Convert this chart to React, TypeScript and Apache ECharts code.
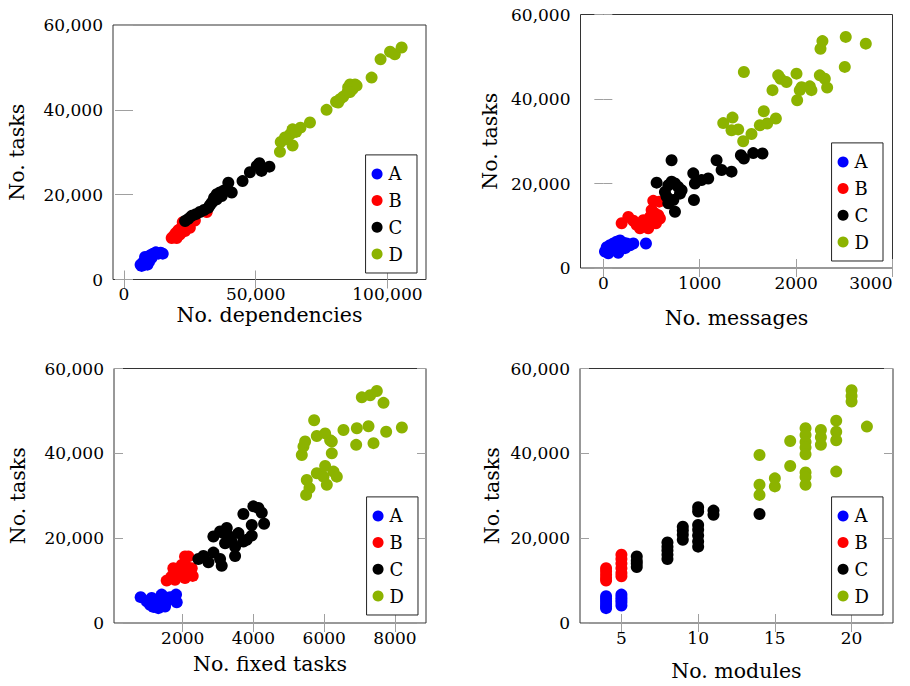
import React, { useEffect, useRef } from "react";
import * as echarts from "echarts";

const groups = ["A", "B", "C", "D"];
const groupColors = ["#0000ff", "#ff0000", "#000000", "#8cb300"];
const yTicks = [0, 20000, 40000, 60000];
const yTitle = "No. tasks";

// Panel 1: No. dependencies vs No. tasks
const depA = [[6300,3500],[7300,4100],[8400,4600],[8900,3500],[9600,4300],[10500,5100],[8000,5300],[11100,6100],[12100,6400],[13000,6100],[13900,6300],[14700,6100],[9900,5700],[6700,3200]];
const depB = [[18100,9800],[19000,10400],[19700,11000],[20600,11600],[21500,12000],[22500,12400],[23500,12700],[24400,13200],[20000,9800],[21200,10600],[23100,11400],[25000,12200],[26900,13900],[31400,15900],[22300,13500],[24000,12200]];
const depC = [[23200,13800],[24400,14300],[25700,15000],[27300,15400],[28800,15900],[30400,16400],[32000,16900],[33300,18100],[34200,19300],[35200,20100],[36400,20500],[37700,20900],[39200,21300],[39600,22800],[40900,20500],[33900,18500],[32600,17500],[35200,18900],[37100,19700],[45000,23200],[47800,25300],[50400,26800],[51400,27400],[52200,25600],[55200,26600]];
const depD = [[59200,30100],[59500,32400],[61100,33500],[63000,34200],[64000,35400],[64000,31600],[65300,34800],[67000,35800],[70600,37000],[76900,40000],[80500,41900],[82000,42500],[83200,43100],[84800,44100],[85100,45300],[85800,46000],[86800,44900],[87700,46000],[88300,45700],[94000,47600],[97400,51900],[101000,53700],[102800,53100],[105400,54700],[61700,33100],[81300,41700],[85800,44200]];
const depTicks = [0, 50000, 100000];

// Panel 2: No. messages vs No. tasks
const msgA = [[17,3900],[35,4900],[69,5400],[104,5800],[138,6200],[173,6500],[207,6000],[242,5800],[276,5400],[311,5800],[155,3600],[225,4700],[442,5800],[86,4400],[52,3500]];
const msgB = [[190,10600],[259,12100],[311,11200],[346,10200],[380,9400],[415,11300],[449,10600],[484,12100],[501,13700],[536,12900],[570,12500],[587,11700],[518,15900],[580,15700],[397,10200],[466,9400],[546,10600]];
const msgC = [[553,20200],[639,18000],[674,19600],[708,20400],[743,20000],[777,19200],[812,18400],[674,15300],[726,16100],[743,13300],[708,25500],[933,22400],[950,20000],[940,16100],[1019,20800],[1088,21200],[1175,25500],[1227,23200],[1330,22800],[1427,26700],[1458,25900],[1555,27200],[1651,27100],[656,16900],[795,17600]];
const msgD = [[1244,34300],[1340,35600],[1330,32600],[1399,32800],[1451,30000],[1537,31700],[1624,33800],[1665,37100],[1700,34200],[1790,35400],[1458,46400],[1755,42100],[1814,45600],[1838,44800],[1900,44000],[2004,46000],[2038,42100],[2011,39700],[2056,42800],[2142,43000],[2159,42100],[2246,45600],[2298,44800],[2322,42700],[2253,51900],[2273,53700],[2515,54700],[2723,53100],[2505,47600]];
const msgTicks = [0, 1000, 2000, 3000];

// Panel 3: No. fixed tasks vs No. tasks
const fixA = [[811,6100],[981,5100],[1075,4300],[1170,3800],[1264,4700],[1358,5500],[1405,6700],[1500,3900],[1547,5100],[1641,6100],[1735,5700],[1811,6700],[1830,4900],[1122,5900],[1311,3500]];
const fixB = [[1547,10000],[1688,11000],[1735,12900],[1830,11800],[1924,12600],[1971,13700],[2065,15700],[2160,15700],[2065,10600],[2207,12200],[2282,11100],[1782,10200],[1943,11400],[2112,13300],[2254,12900]];
const fixC = [[2442,15100],[2584,15800],[2725,14300],[2867,16600],[3055,15100],[3102,13500],[2867,20400],[3055,21600],[3244,22400],[3320,20400],[3385,19200],[3480,18000],[3480,15800],[3574,21200],[3715,19200],[3810,19600],[3951,20600],[3951,23100],[3715,25700],[3998,27500],[4140,27100],[4234,26000],[4300,23400],[3197,18800],[3150,21200]];
const fixD = [[5366,39600],[5413,41600],[5460,42800],[5507,33700],[5583,31800],[5488,30200],[5715,47800],[5790,44100],[5790,35300],[5979,34500],[6026,44700],[6026,37000],[6073,32600],[6167,43100],[6214,40000],[6262,35700],[6356,34500],[6544,45500],[6903,42000],[6922,45900],[7063,53200],[7252,46400],[7300,53700],[7393,42400],[7487,54700],[7676,51900],[7751,45100],[8195,46100],[6214,42800]];
const fixTicks = [2000, 4000, 6000, 8000];

// Panel 4: No. modules vs No. tasks
const modA = [[4,6300],[4,5700],[4,5100],[4,4500],[4,3900],[4,3500],[5,6700],[5,6100],[5,5500],[5,4900],[5,4100]];
const modB = [[4,12900],[4,12200],[4,11400],[4,10600],[4,10000],[5,16100],[5,15100],[5,14000],[5,12900],[5,11800],[5,11000]];
const modC = [[6,15700],[6,14700],[6,14000],[6,13200],[8,19000],[8,18000],[8,17100],[8,16100],[8,15100],[9,22700],[9,21800],[9,20800],[9,19600],[10,27300],[10,26300],[10,23100],[10,22000],[10,20600],[10,19200],[10,18000],[11,26500],[11,25500],[14,25700]];
const modD = [[14,39600],[14,32600],[14,30200],[15,34100],[15,32200],[16,42900],[16,37000],[17,45900],[17,44300],[17,42700],[17,41400],[17,39800],[17,35500],[17,34400],[17,32600],[18,45500],[18,43800],[18,42000],[19,47700],[19,45100],[19,43100],[19,35700],[20,54900],[20,53500],[20,52200],[21,46300]];
const modTicks = [5, 10, 15, 20];

const FONT = "DejaVu Serif";

const panels = [
  { data: [depA, depB, depC, depD], xTicks: depTicks, xName: "No. dependencies",
    grid: { left: 113, top: 25, width: 313, height: 254.5 }, xMin: -4180, xMax: 114650,
    xNameGap: 25, yNameGap: 86, legend: { right: 493, bottom: 413 } },
  { data: [msgA, msgB, msgC, msgD], xTicks: msgTicks, xName: "No. messages",
    grid: { left: 580.5, top: 14.5, width: 312, height: 253.5 }, xMin: -237, xMax: 3000,
    xNameGap: 39, yNameGap: 80, legend: { right: 27, bottom: 425 } },
  { data: [fixA, fixB, fixC, fixD], xTicks: fixTicks, xName: "No. fixed tasks",
    grid: { left: 114, top: 368.5, width: 312, height: 254.5 }, xMin: 57, xMax: 8877,
    xNameGap: 30.5, yNameGap: 86, legend: { right: 492, bottom: 71 } },
  { data: [modA, modB, modC, modD], xTicks: modTicks, xName: "No. modules",
    grid: { left: 580, top: 368.5, width: 313, height: 254.5 }, xMin: 2.3, xMax: 22.7,
    xNameGap: 37.5, yNameGap: 78, legend: { right: 27, bottom: 71 } },
];

const fmt = (v: number) => (Math.abs(v) >= 10000 ? v.toLocaleString("en-US") : String(v));

function buildOption() {
  const grid: any[] = [];
  const xAxis: any[] = [];
  const yAxis: any[] = [];
  const series: any[] = [];
  const legend: any[] = [];
  const tickStyle = { show: true, inside: true, length: 9, lineStyle: { color: "#a0a0a0", width: 1 } };
  const tickText = { fontFamily: FONT, fontSize: 17, color: "#000" };
  const titleText = { fontFamily: FONT, fontSize: 20.5, color: "#000" };
  panels.forEach((p, i) => {
    grid.push({ ...p.grid, show: true, borderColor: "#333", borderWidth: 1, backgroundColor: "transparent", containLabel: false, outerBoundsMode: "none" });
    const xBase = { type: "value", gridIndex: i, min: p.xMin, max: p.xMax, splitLine: { show: false }, axisLine: { show: false } };
    xAxis.push({
      ...xBase, position: "bottom",
      axisTick: { ...tickStyle, customValues: p.xTicks },
      axisLabel: { ...tickText, margin: 6, customValues: p.xTicks, formatter: fmt, alignMaxLabel: i === 1 ? "right" : undefined },
      name: p.xName, nameLocation: "middle", nameGap: p.xNameGap,
      nameTextStyle: { ...titleText },
    });
    xAxis.push({ ...xBase, position: "top", axisTick: { ...tickStyle, customValues: p.xTicks }, axisLabel: { show: false } });
    const yBase = { type: "value", gridIndex: i, min: 0, max: 60000, splitLine: { show: false }, axisLine: { show: false } };
    yAxis.push({
      ...yBase, position: "left",
      axisTick: { ...tickStyle, customValues: yTicks },
      axisLabel: { ...tickText, margin: 10, customValues: yTicks, formatter: fmt },
      name: yTitle, nameLocation: "middle", nameRotate: 90, nameGap: p.yNameGap,
      nameTextStyle: { ...titleText },
    });
    yAxis.push({ ...yBase, position: "right", axisTick: { ...tickStyle, customValues: yTicks }, axisLabel: { show: false } });
    p.data.forEach((d, g) => {
      series.push({
        type: "scatter", name: groups[g], data: d, xAxisIndex: 2 * i, yAxisIndex: 2 * i,
        symbol: "circle", symbolSize: 12, itemStyle: { color: groupColors[g], opacity: 1 },
        emphasis: { disabled: true }, silent: true,
      });
    });
    legend.push({
      data: groups, orient: "vertical", right: p.legend.right, bottom: p.legend.bottom,
      icon: "circle", itemWidth: 11, itemHeight: 11, itemGap: 8.7, padding: [10, 14, 10, 6],
      borderColor: "#222", borderWidth: 1, backgroundColor: "#fff", borderRadius: 0,
      textStyle: { fontFamily: FONT, fontSize: 18, color: "#000", padding: [0, 0, 0, 1] },
      selectedMode: false, z: 10,
    });
  });
  return { animation: false, backgroundColor: "#fff", grid, xAxis, yAxis, series, legend };
}

export default function App() {
  const ref = useRef<HTMLDivElement>(null);
  useEffect(() => {
    if (!ref.current) return;
    const chart = echarts.init(ref.current, undefined, { renderer: "svg" });
    chart.setOption(buildOption() as any);
    return () => chart.dispose();
  }, []);
  return <div ref={ref} style={{ position: "absolute", left: 0, top: 0, width: 910, height: 686 }} />;
}
